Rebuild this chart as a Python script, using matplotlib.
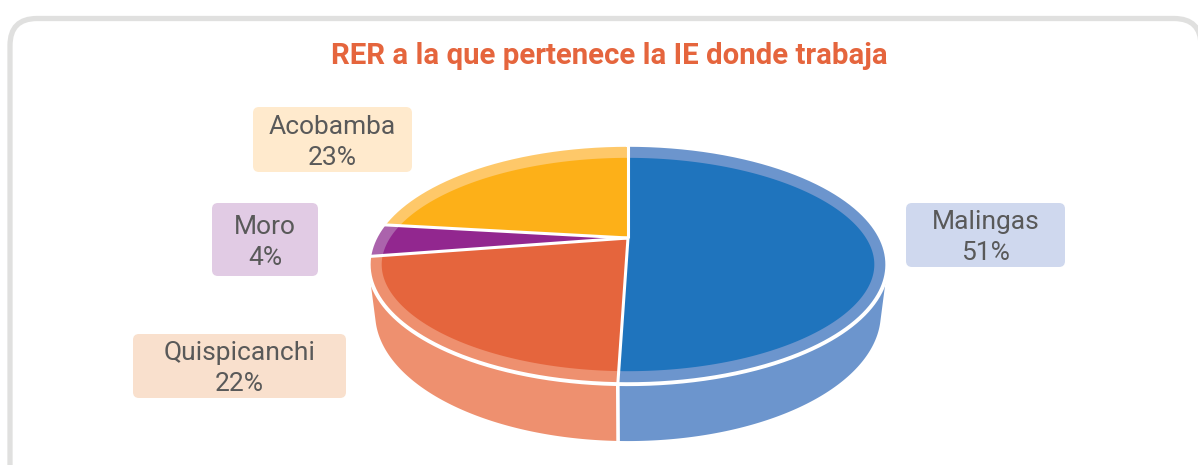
import math

import matplotlib.pyplot as plt
import numpy as np
from matplotlib.patches import FancyBboxPatch, Polygon

# data (share of respondents per RER)
regions = ['Malingas', 'Quispicanchi', 'Moro', 'Acobamba']
shares = [50.5, 22.0, 4.4, 23.1]
title = 'RER a la que pertenece la IE donde trabaja'

top_colors = ['#1f74bd', '#e5653d', '#92278f', '#fdb018']
side_colors = ['#6c95cd', '#ee906f', '#ab63ac', '#fec869']
box_colors = ['#cfd8ee', '#f9e0cd', '#e1cbe4', '#ffeacd']
# label box (x0, y0, x1, y1) in pixels
boxes = [(906, 203, 1065, 267), (133, 334, 346, 398),
         (212, 203, 318, 276), (253, 107, 412, 172)]

W, H = 1198, 465
TXT = '#595959'

# simple perspective camera for the 3d pie
CX, CY = 628, 238
F = 1019
SIN_E = 0.45
COS_E = math.sqrt(1 - SIN_E ** 2)
DIST = 4.03
THICK = 0.218
RIM = 13


def project(theta, z=0.0):
    t = np.radians(np.atleast_1d(theta))
    u, v = np.sin(t), -np.cos(t)
    d = DIST - v * COS_E - z * SIN_E
    return np.column_stack([CX + F * u / d, CY + F * (v * SIN_E - z * COS_E) / d])


fig = plt.figure(figsize=(W / 100, H / 100), dpi=100)
ax = fig.add_axes([0, 0, 1, 1])
ax.set_xlim(0, W)
ax.set_ylim(H, 0)
ax.axis('off')

# frame
ax.add_patch(FancyBboxPatch((10, 18.5), 1191, 500, boxstyle='round,pad=0,rounding_size=27',
                            fc='white', ec='#e0e0df', lw=3.8, zorder=0))

# slice angles, clockwise from the back
edges = np.concatenate([[0], np.cumsum(shares) / sum(shares) * 360])
phi = math.degrees(math.acos(1 / (DIST * COS_E)))
vis0, vis1 = 180 - phi, 180 + phi

# side walls
for i in range(len(shares)):
    a, b = max(edges[i], vis0), min(edges[i + 1], vis1)
    if a >= b:
        continue
    th = np.linspace(a, b, 200)
    pts = np.vstack([project(th, 0), project(th[::-1], -THICK)])
    ax.add_patch(Polygon(pts, closed=True, fc=side_colors[i], ec='none', zorder=1))
for e in edges[1:-1]:
    if vis0 < e < vis1:
        seg = np.vstack([project(e, 0), project(e, -THICK)])
        ax.plot(seg[:, 0], seg[:, 1], color='white', lw=2.6, zorder=2, solid_capstyle='butt')

# inner outline of the top face (constant screen-space bevel)
full = np.linspace(0, 360, 1441)
outer = project(full)
tan = np.gradient(outer, axis=0)
tan /= np.linalg.norm(tan, axis=1)[:, None]
inner = outer + RIM * np.column_stack([-tan[:, 1], tan[:, 0]])

center = np.array([[CX, CY]])
for i in range(len(shares)):
    th = np.linspace(edges[i], edges[i + 1], 400)
    pts = np.vstack([center, project(th)])
    ax.add_patch(Polygon(pts, closed=True, fc=side_colors[i], ec='none', zorder=3))
    p = Polygon(pts, closed=True, fc=top_colors[i], ec='none', zorder=4)
    ax.add_patch(p)
    clip = Polygon(inner, closed=True, transform=ax.transData)
    p.set_clip_path(clip)

ax.plot(outer[:, 0], outer[:, 1], color='white', lw=2.8, zorder=5)
for e in edges[:-1]:
    seg = np.vstack([center, project(e)])
    ax.plot(seg[:, 0], seg[:, 1], color='white', lw=2.2, zorder=5, solid_capstyle='butt')

# labels
for name, val, (x0, y0, x1, y1), bc in zip(regions, shares, boxes, box_colors):
    ax.add_patch(FancyBboxPatch((x0, y0), x1 - x0, y1 - y0,
                                boxstyle='round,pad=0,rounding_size=6',
                                fc=bc, ec='none', zorder=6))
    xm, ym = (x0 + x1) / 2, (y0 + y1) / 2
    ax.text(xm, ym - 6, name, ha='center', va='baseline', fontsize=19,
            family='Roboto', color=TXT, zorder=7)
    ax.text(xm, ym + 25, f'{math.floor(val + 0.5)}%', ha='center', va='baseline',
            fontsize=19, family='Roboto', color=TXT, zorder=7)

# title, sized to the reference width
t = ax.text(609.5, 64, title, ha='center', va='baseline', fontsize=20,
            family='Roboto', weight='bold', color='#e5653d', zorder=7)
bb = t.get_window_extent(renderer=fig.canvas.get_renderer())
t.set_fontsize(20 * 554 / bb.width)

fig.savefig('out.png', dpi=100, facecolor='white')
